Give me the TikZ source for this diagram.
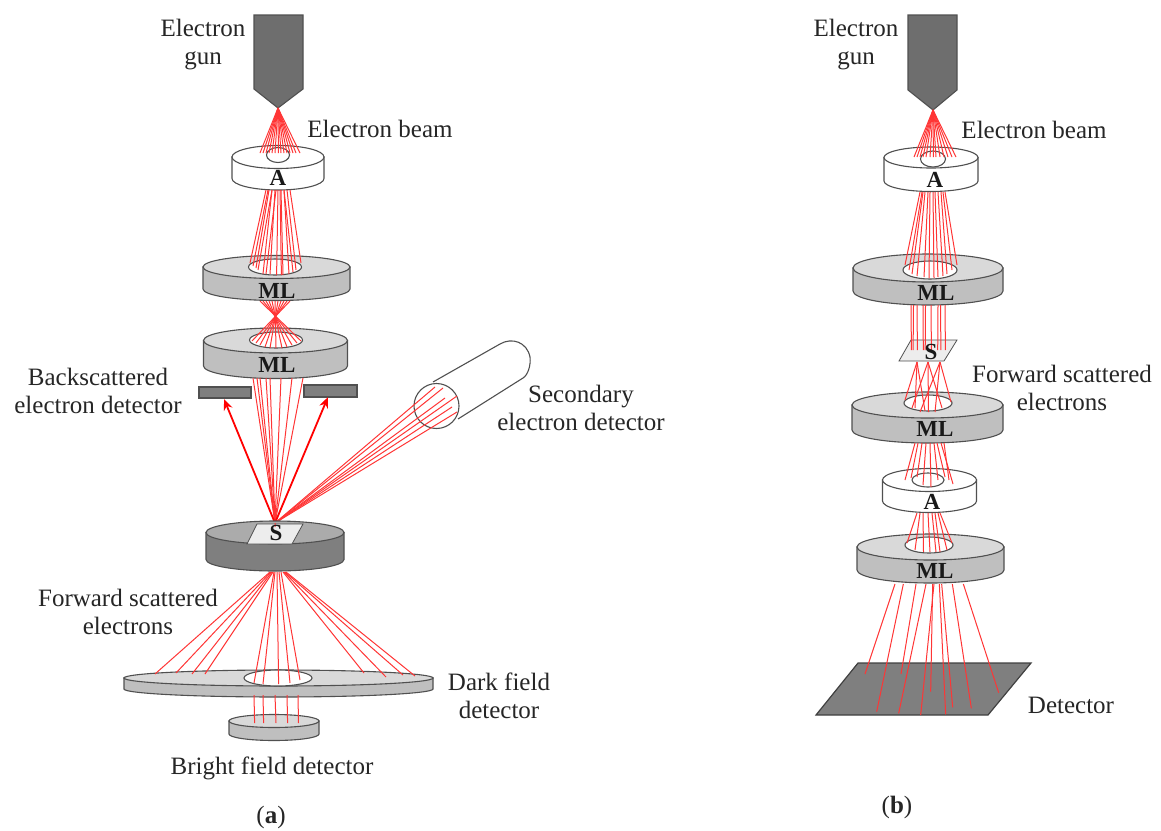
\documentclass[tikz,border=0pt]{standalone}
\usepackage{fontspec}
\setmainfont{Liberation Serif}
\usetikzlibrary{arrows.meta}
\definecolor{mltop}{HTML}{D9D9D9}
\definecolor{mlside}{HTML}{BFBFBF}
\definecolor{stagetop}{HTML}{ABABAB}
\definecolor{stageside}{HTML}{7F7F7F}
\definecolor{gunfill}{HTML}{6E6E6E}
\definecolor{edge}{HTML}{505050}
\definecolor{sample}{HTML}{EDEDED}
\definecolor{rayred}{HTML}{FF3535}
\tikzset{
  cylline/.style={draw=edge,line width=1.1pt},
  ray/.style={draw=rayred,line width=1pt},
  bigray/.style={draw=red,line width=1.8pt,-{Stealth[length=11pt,width=9pt]}},
  lab/.style={font=\fontsize{25}{28}\selectfont,align=center,text=black!85,inner sep=0pt},
  tag/.style={font=\fontsize{23}{26}\selectfont\bfseries,text=black!90,inner sep=0pt},
}
\newcommand{\cyl}[7]{%
  \draw[cylline,fill=#7] (#1-#4,#2) -- (#1-#4,#3) arc[start angle=180,end angle=360,x radius=#4pt,y radius=#5pt] -- (#1+#4,#2) -- cycle;
  \draw[cylline,fill=#6] (#1,#2) ellipse[x radius=#4pt,y radius=#5pt];}
\newcommand{\holeat}[4]{\draw[cylline,fill=white] (#1,#2) ellipse[x radius=#3pt,y radius=#4pt];}
\begin{document}
\begin{tikzpicture}[x=1pt,y=-1pt]
\useasboundingbox (0,0) rectangle (1161,830);
% ---------- (a)
\draw[cylline,fill=gunfill] (254,15) -- (303,15) -- (303,89) -- (278,108) -- (254,89) -- cycle;
\cyl{278}{157}{178.5}{46}{11.5}{white}{white}
\holeat{278}{155}{11.5}{7.5}
\foreach \x in {260,263,266,269,272,275,278.4,281,284,287,290,293,296,300}
  \draw[ray] (278,108) -- (\x,153);
\cyl{276.5}{267}{289}{73.5}{11.5}{mltop}{mlside}
\holeat{275}{267}{26.5}{8}
\foreach \a/\b/\c in {266/250/263,269/256/268,272/263/274,275/270/274,278/276.6/275,281/283/275,284/289/274,287/296/270,290/301/263,272/258/270,284/293/272,268/253/266,276/266/274,280/281.4/275}
  \draw[ray] (\a,190) -- (\b,\c);
\cyl{275.5}{340.5}{366}{72}{12.5}{mltop}{mlside}
\holeat{276}{340}{26.5}{8}
\foreach \a/\b/\c in {290/252/341,287/256/343,284/260/345,281/265/347,278/270/348,275/276/348,272/282/348,269/287/347,266/292/345,263/297/343,260/301/341}
  \draw[ray] (\a,301) -- (\b,\c);
% detectors
\draw[cylline,fill=stageside] (199,387) rectangle (251,398);
\draw[cylline,fill=stageside] (304,385) rectangle (357,397);
% rays to S
\coordinate (sa) at (275,523);
\foreach \x in {253,260,270,281,292,303,257,266}
  \draw[ray] (\x,378) -- (sa);
\draw[bigray] (sa) -- (224,399);
\draw[bigray] (sa) -- (328,397);
% secondary detector
\draw[cylline,fill=none] (433,382) -- (500,344) .. controls (512,337) and (527,342) .. (530,357) .. controls (531,365) and (528,375) .. (523,378) -- (458,419);
\draw[cylline,fill=none] (436.5,406) circle[radius=22.5pt];
\foreach \x/\y in {435/387,443/388,457/396,452/407,457/412,445/398}
  \draw[ray] (sa) -- (\x,\y);
% stage
\cyl{275}{532.5}{559.5}{69}{11.5}{stagetop}{stageside}
\draw[draw=edge,line width=0.8pt,fill=sample] (257,524) -- (303,524) -- (292,544) -- (247,544) -- cycle;
\draw[ray] (sa) -- (275.2,527);
% dark field
\cyl{278.5}{678}{689}{154.5}{8}{mltop}{mlside}
\holeat{278}{678}{34}{8}
\foreach \x/\y/\u/\v in {155/674/270/572,176/673/271/572,192/674/272/572,205/674/273/572,364/673/283/572,386/677/284/572,403/675/285/572,415/676/286/572,254/683/274/572,263/684/275/572,278.6/684/277/572,290/683/279/572,300/680/281/572}
  \draw[ray] (\u,\v) -- (\x,\y);
% bright field
\cyl{274}{721}{734}{45}{6.5}{mltop}{mlside}
\foreach \x/\y in {254/254.6,263/263.6,275/276,287/287.6,298/298.5}
  \draw[ray] (\x,695) -- (\y,723);
% ---------- (b)
\draw[cylline,fill=gunfill] (908,15) -- (957,15) -- (957,90) -- (933,110) -- (908,90) -- cycle;
\cyl{931}{157.5}{181}{47}{10.5}{white}{white}
\holeat{933}{159}{12.5}{8}
\foreach \x in {914,917,920,923,926,930,933.4,936,940,944,948,952,956}
  \draw[ray] (933,110) -- (\x,157);
\cyl{928}{268}{291}{75}{14}{mltop}{mlside}
\holeat{930}{270}{27}{9}
\foreach \a/\b/\c in {920/905/265,923/912/274,925/917/276,928/924/277,930/929/278,933/934/278,935/938/277,938/943/276,941/947/274,945/957/265,922/909/270,943/952/270}
  \draw[ray] (\a,192) -- (\b,\c);
\draw[draw=edge,line width=0.8pt,fill=sample] (911,340) -- (957,340) -- (944,361) -- (899,361) -- cycle;
\foreach \x/\y in {911/911.4,913.5/913.1,917/917.4,923/923.3,925.5/925.2,931/931.4,938/937.7,940.5/940.9,945/945.4}
  \draw[ray] (\x,305) -- (\y,350);
\cyl{927.5}{405}{430}{75.5}{13}{mltop}{mlside}
\holeat{928}{403}{24}{8}
\foreach \a/\b/\d in {917/905/400,917/915/408,917/925/411,928/912/408,928/928.5/412,928/942/408,940/920/412,940/935/412,940/951/402}
  \draw[ray] (\a,362) -- (\b,\d);
\cyl{929.5}{480}{501}{47}{11.5}{white}{white}
\holeat{928}{480}{16}{7}
\foreach \a/\b/\d in {915/905/480,918/911/478,922/917/477,926/923/485,930/931/487,934/938/480,937/945/477,941/953/484,944/949/480}
  \draw[ray] (\a,443) -- (\b,\d);
\cyl{930.5}{547}{570}{73.5}{13}{mltop}{mlside}
\holeat{929}{545}{24}{8}
\foreach \a/\b/\d in {917/907/543,920/915/550,923/923.5/552,928/930/552,932/936/552,935/940/552,938/947/550,940/952/543}
  \draw[ray] (\a,513) -- (\b,\d);
\draw[draw=black!75,line width=1.2pt,fill=stageside] (858,663) -- (1031,663) -- (988,715) -- (816,715) -- cycle;
\foreach \a/\c/\d in {285/195/312,310/230/425,348/303/312,378/296/430,402/362/435,398/392/365,418/437/433,425/458/412,457/514/415,490/596/368}{
  \pgfmathsetmacro{\xa}{800+\a/3}
  \pgfmathsetmacro{\xb}{800+\c/3}
  \pgfmathsetmacro{\yb}{570+\d/3}
  \draw[ray] (\xa,584) -- (\xb,\yb);
}
% ---------- tags
\node[tag] (ta1) at (278,178) {A};
\node[tag] (tm1) at (277,291) {ML};
\node[tag] (tm2) at (277,365) {ML};
\node[tag] (ts1) at (276,533) {S};
\node[tag] (ta2) at (935,180) {A};
\node[tag] (tm3) at (936,293) {ML};
\node[tag] (ts2) at (931,352) {S};
\node[tag] (tm4) at (935,429) {ML};
\node[tag] (ta3) at (932,502) {A};
\node[tag] (tm5) at (935,571) {ML};
% ---------- labels
\node[lab] (l1) at (203,45) {Electron\\gun};
\node[lab] (l2) at (380,129) {Electron beam};
\node[lab] (l3) at (98,391) {Backscattered\\electron detector};
\node[lab] (l4) at (581,408) {Secondary\\electron detector};
\node[lab] (l5) at (128,612) {Forward scattered\\electrons};
\node[lab] (l6) at (499,696) {Dark field\\detector};
\node[lab] (l7) at (272,768) {Bright field detector};
\node[lab] (l8) at (271,817) {(\textbf{a})};
\node[lab] (l9) at (856,45) {Electron\\gun};
\node[lab] (l10) at (1034,130) {Electron beam};
\node[lab] (l11) at (1062,388) {Forward scattered\\electrons};
\node[lab] (l12) at (1071,705) {Detector};
\node[lab] (l13) at (897,807) {(\textbf{b})};
\end{tikzpicture}
\end{document}
